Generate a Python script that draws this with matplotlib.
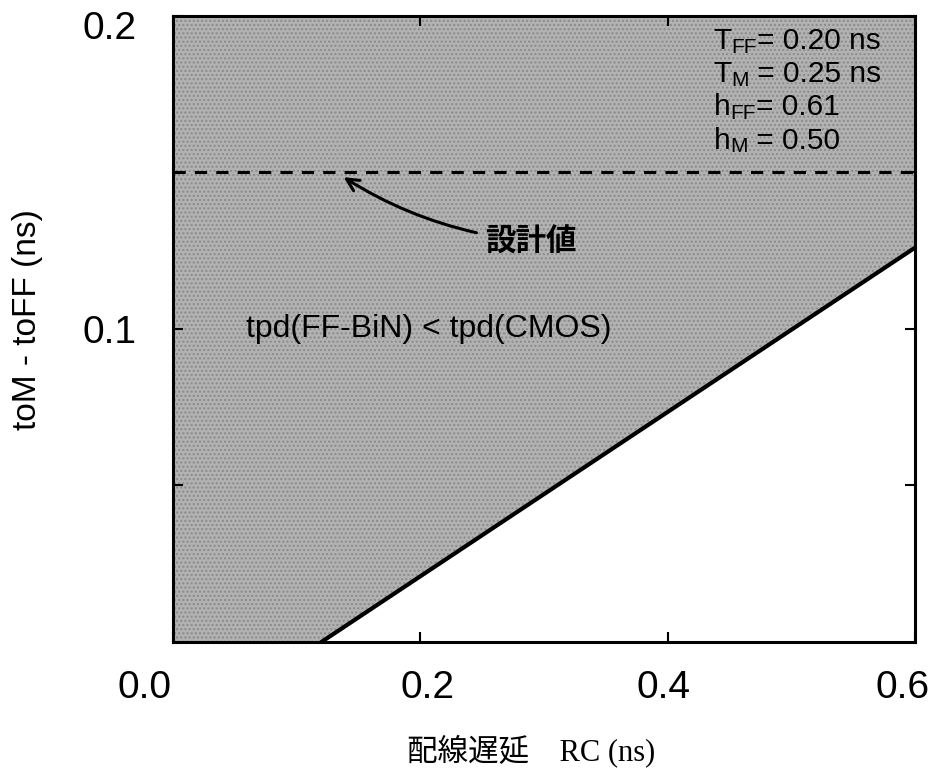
import numpy as np
import matplotlib
matplotlib.use('Agg')
import matplotlib.pyplot as plt
from matplotlib.transforms import ScaledTranslation

plt.rcParams['font.family'] = ['Liberation Sans', 'Noto Sans CJK JP']

# boundary line tpd(FF-BiN) = tpd(CMOS)
rc_bound = [0.12, 0.60]
dt_bound = [0.0, 0.126]
design_value = 0.15
# parameter block: (symbol, subscript, value)
params = [('T', 'FF', '= 0.20 ns'), ('T', 'M', ' = 0.25 ns'),
          ('h', 'FF', '= 0.61'), ('h', 'M', ' = 0.50')]

fig = plt.figure(figsize=(9.37, 7.71), dpi=100)
ax = fig.add_axes([0.1846, 0.1673, 0.792, 0.812])

# shaded region above the boundary
xs = np.array([0.0] + rc_bound)
ys = np.array([0.0] + dt_bound)
ax.fill_between(xs, ys, 0.2, color='#b2b2b2', hatch='....', edgecolor='#8a8a8a', linewidth=0)
ax.plot(rc_bound, dt_bound, color='black', lw=3)
ax.axhline(design_value, color='black', lw=2.2, ls=(0, (4, 3)))

ax.text(0.207, 0.1, 'tpd(FF-BiN) < tpd(CMOS)', fontsize=23, ha='center', va='center')

# small-caps style subscripts, chained text by text
for i, (sym, sub, val) in enumerate(params):
    t1 = ax.text(0.437, 0.1875 - i * 0.0106, sym, fontsize=21.5, ha='left', va='bottom')
    t2 = ax.annotate(sub, xy=(1, 0), xycoords=t1, xytext=(0, -1.3),
                     textcoords='offset points', fontsize=15, ha='left', va='bottom')
    ax.annotate(val, xy=(1, 0), xycoords=t2, xytext=(0, 1.3),
                textcoords='offset points', fontsize=21.5, ha='left', va='bottom')

ax.annotate('設計値', xy=(0.138, 0.1485), xytext=(0.252, 0.128), fontsize=22,
            family=['Noto Sans CJK JP'], weight='bold', va='center', ha='left',
            arrowprops=dict(arrowstyle='->', color='black', lw=2.2,
                            mutation_scale=22, connectionstyle='arc3,rad=-0.12',
                            shrinkA=4, shrinkB=0))

ax.set_xlim(0, 0.6)
ax.set_ylim(0, 0.2)
ax.set_xticks([0.0, 0.2, 0.4, 0.6])
ax.set_xticklabels(['0.0', '0.2', '0.4', '0.6'])
ax.set_yticks([0.1, 0.2])
ax.set_yticklabels(['0.1', '0.2'])
ax.set_yticks([0.05, 0.15], minor=True)
ax.tick_params(which='both', direction='in', length=7, width=1.5,
               top=True, right=True, labelsize=28)
ax.tick_params(axis='x', pad=20)
ax.tick_params(axis='y', pad=26)
for sp in ax.spines.values():
    sp.set_linewidth(2.2)

# nudge tick labels as in the original print
fig.canvas.draw()
xl = ax.get_xticklabels()
for lab, dx in zip(xl, [-28, 7, -4, -13]):
    lab.set_transform(lab.get_transform() + ScaledTranslation(dx / 100, 0, fig.dpi_scale_trans))
yl = ax.get_yticklabels()
yl[1].set_transform(yl[1].get_transform() + ScaledTranslation(0, -9 / 100, fig.dpi_scale_trans))

ax.set_ylabel('toM - toFF (ns)', fontsize=24)
ax.yaxis.set_label_coords(-0.175, 0.515)
ax.set_xlabel('配線遅延　RC (ns)', fontsize=22,
              family=['Liberation Serif', 'Noto Sans CJK JP'])
ax.xaxis.set_label_coords(0.483, -0.147)

fig.savefig('out.png', dpi=100)
